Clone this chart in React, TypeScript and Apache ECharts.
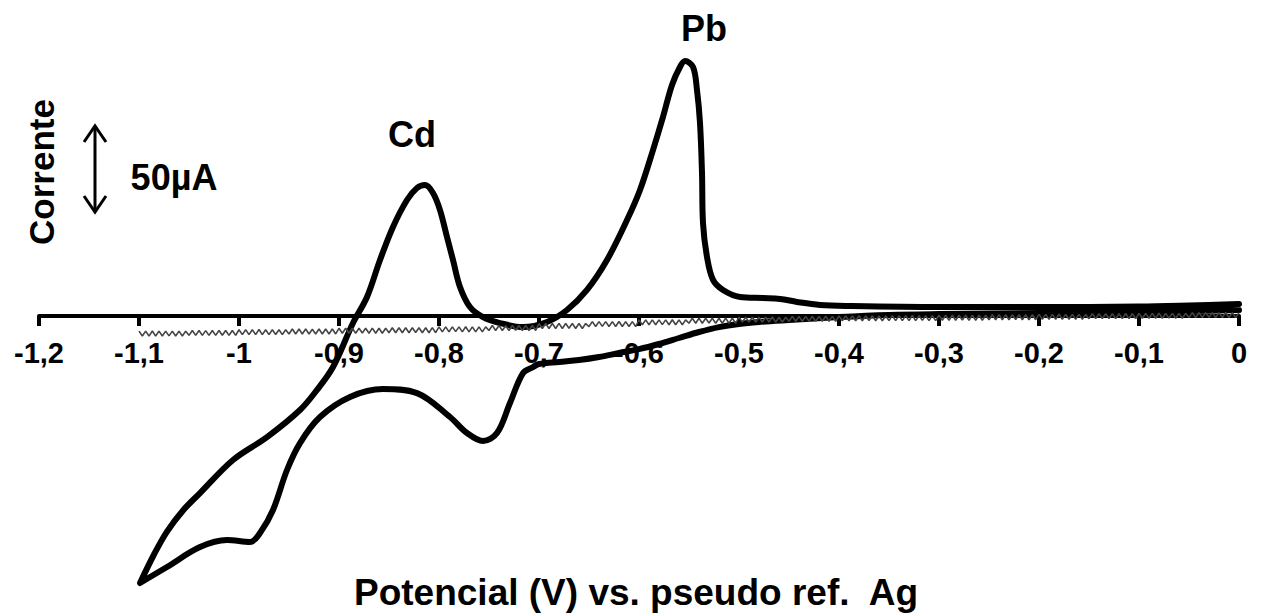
import React, { useEffect, useRef } from "react";
import * as echarts from "echarts";

// Potential axis (V) tick labels, written with a decimal comma
const TICK_LABELS = ["-1,2", "-1,1", "-1", "-0,9", "-0,8", "-0,7", "-0,6", "-0,5", "-0,4", "-0,3", "-0,2", "-0,1", "0"];

// Cyclic voltammogram, cathodic sweep 0 V -> -1.1 V, then anodic sweep back to 0 V
const CV_POTENTIAL = [
  0, -0.05, -0.1, -0.2, -0.3, -0.35, -0.4, -0.45, -0.48, -0.5,
  -0.52, -0.54, -0.56, -0.58, -0.6, -0.62, -0.64, -0.66, -0.68, -0.7,
  -0.706, -0.716, -0.729, -0.742, -0.756, -0.772, -0.789, -0.822, -0.856, -0.889,
  -0.919, -0.939, -0.952, -0.966, -0.979, -0.989, -1.012, -1.039, -1.072, -1.099,
  -1.085, -1.072, -1.056, -1.039, -1.006, -0.972, -0.939, -0.922, -0.906, -0.886, -0.872, -0.859,
  -0.846, -0.832, -0.822, -0.814, -0.806, -0.799, -0.792, -0.786, -0.779, -0.769,
  -0.756, -0.739, -0.716, -0.692, -0.672, -0.652, -0.632, -0.612, -0.599, -0.586,
  -0.576, -0.567, -0.559, -0.554, -0.546, -0.542, -0.539, -0.537, -0.536, -0.532,
  -0.526, -0.516, -0.499, -0.476, -0.459, -0.442, -0.419, -0.39, -0.3, -0.2,
  -0.1, -0.05, 0,
];
// Current in µA for each potential above
const CV_CURRENT = [
  3.4, 2.8, 2.3, 1.7, 1.1, 0.6, -0.6, -2.3, -3.4, -4.5,
  -6.3, -9.1, -12.5, -15.9, -18.8, -21.0, -23.3, -25.0, -26.1, -27.3,
  -29.0, -32.4, -49.4, -66.5, -71.0, -66.5, -57.4, -43.8, -41.5, -46.0,
  -57.4, -72.2, -87.5, -110.2, -123.3, -128.4, -127.3, -131.3, -142.6, -151.7,
  -135.5, -122.5, -110.5, -100.6, -81.8, -68.8, -53.4, -42.0, -29.0, -4.0, 10.8, 31.8,
  50.6, 65.9, 72.7, 74.4, 69.9, 60.2, 44.9, 31.8, 16.5, 5.1,
  -0.6, -4.0, -6.3, -3.4, 3.4, 14.8, 31.8, 54.5, 71.6, 94.3,
  113.1, 131.3, 141.5, 144.9, 141.5, 128.4, 109.7, 81.3, 52.8, 33.5,
  20.5, 14.8, 10.8, 10.2, 9.7, 8.0, 6.3, 5.7, 5.1, 5.1,
  5.4, 6.0, 6.8,
];

// Blank scan: sampled every 1/300 V from -1.1 V to 0 V, current in µA
const BLANK_START = -1.1;
const BLANK_STEP = 0.1 / 30;
const BLANK_CURRENT = [
  // -1.1 .. -1.0
  -8.6, -11.4, -8.6, -11.4, -8.5, -11.4, -8.6, -11.4, -8.6, -11.3, -8.6, -11.4, -8.6, -11.4, -8.6,
  -11.0, -8.2, -11.0, -8.2, -11.0, -8.3, -11.0, -8.2, -11.0, -8.2, -10.9, -8.2, -11.0, -8.2, -11.0,
  // -1.0 .. -0.9
  -7.8, -10.6, -7.8, -10.6, -7.8, -10.6, -7.7, -10.6, -7.8, -10.6, -7.8, -10.5, -7.8, -10.6, -7.8,
  -10.2, -7.4, -10.2, -7.4, -10.2, -7.4, -10.2, -7.5, -10.2, -7.4, -10.2, -7.4, -10.2, -7.4, -10.2,
  // -0.9 .. -0.8
  -7.0, -9.8, -7.0, -9.8, -7.0, -9.8, -7.0, -9.7, -7.0, -9.8, -6.9, -9.8, -7.0, -9.8, -7.0,
  -9.5, -6.7, -9.5, -6.7, -9.5, -6.7, -9.5, -6.7, -9.4, -6.7, -9.5, -6.7, -9.5, -6.6, -9.5,
  // -0.8 .. -0.7
  -6.2, -9.0, -6.2, -9.0, -6.2, -8.9, -6.2, -9.0, -6.1, -9.0, -6.2, -9.0, -6.2, -9.0, -6.2,
  -8.2, -5.4, -8.2, -5.4, -8.2, -5.5, -8.2, -5.4, -8.1, -5.4, -8.2, -5.4, -8.2, -5.4, -8.2,
  // -0.7 .. -0.6
  -4.3, -7.1, -4.3, -7.1, -4.3, -7.1, -4.2, -7.1, -4.3, -7.0, -4.3, -7.1, -4.3, -7.1, -4.3,
  -6.0, -3.2, -6.0, -3.2, -5.9, -3.2, -6.0, -3.2, -6.0, -3.1, -6.0, -3.2, -6.0, -3.2, -6.0,
  // -0.6 .. -0.5
  -2.2, -5.0, -2.2, -5.0, -2.2, -5.0, -2.2, -4.9, -2.2, -5.0, -2.1, -5.0, -2.2, -5.0, -2.2,
  -4.1, -1.3, -4.1, -1.3, -4.1, -1.3, -4.0, -1.3, -4.1, -1.3, -4.1, -1.2, -4.1, -1.3, -4.1,
  // -0.5 .. -0.4
  -0.7, -3.5, -0.7, -3.5, -0.7, -3.4, -0.7, -3.5, -0.7, -3.5, -0.6, -3.5, -0.7, -3.5, -0.7,
  -3.0, -0.2, -3.0, -0.2, -3.0, -0.2, -2.9, -0.2, -3.0, -0.2, -3.0, -0.1, -3.0, -0.2, -3.0,
  // -0.4 .. -0.3
  0.1, -2.7, 0.1, -2.7, 0.1, -2.7, 0.2, -2.7, 0.1, -2.6, 0.1, -2.7, 0.1, -2.7, 0.1,
  -2.6, 0.2, -2.6, 0.2, -2.6, 0.2, -2.6, 0.3, -2.6, 0.2, -2.5, 0.2, -2.6, 0.2, -2.6,
  // -0.3 .. -0.2
  0.4, -2.4, 0.4, -2.4, 0.4, -2.4, 0.4, -2.3, 0.4, -2.4, 0.5, -2.4, 0.4, -2.4, 0.4,
  -2.1, 0.7, -2.1, 0.7, -2.1, 0.7, -2.1, 0.7, -2.0, 0.7, -2.1, 0.7, -2.1, 0.8, -2.1,
  // -0.2 .. -0.1
  0.9, -1.9, 0.9, -1.9, 0.9, -1.9, 1.0, -1.9, 0.9, -1.8, 0.9, -1.9, 0.9, -1.9, 0.9,
  -1.5, 1.3, -1.5, 1.3, -1.5, 1.3, -1.4, 1.3, -1.5, 1.3, -1.5, 1.4, -1.5, 1.3, -1.5,
  // -0.1 .. 0
  1.5, -1.3, 1.5, -1.3, 1.5, -1.3, 1.6, -1.3, 1.5, -1.2, 1.5, -1.3, 1.5, -1.3, 1.5,
  -0.9, 1.9, -0.9, 1.9, -0.9, 1.9, -0.8, 1.9, -0.9, 1.9, -0.9, 2.0, -0.9, 1.9, -0.9,
  1.9,
];

const FONT = "'Liberation Sans', Arial, Helvetica, sans-serif";

export default function App() {
  const ref = useRef<HTMLDivElement>(null);

  useEffect(() => {
    if (!ref.current) return;
    const chart = echarts.init(ref.current, null, { renderer: "svg" });

    const cvData = CV_POTENTIAL.map((v, i) => [v, CV_CURRENT[i]]);
    const blankData = BLANK_CURRENT.map((c, i) => [BLANK_START + i * BLANK_STEP, c]);

    chart.setOption({
      animation: false,
      backgroundColor: "#ffffff",
      // the grid's lower edge is the zero-current line; negative currents are drawn below it
      grid: { left: 39, right: 23, top: 16.8, bottom: 300, containLabel: false, outerBoundsMode: "none" },
      xAxis: {
        type: "value",
        min: -1.2,
        max: 0,
        interval: 0.1,
        axisLine: { onZero: false, lineStyle: { color: "#000", width: 4 } },
        axisTick: { show: true, inside: false, length: 10, lineStyle: { color: "#000", width: 4 } },
        axisLabel: {
          formatter: (v: number) => TICK_LABELS[Math.round((v + 1.2) / 0.1)] ?? "",
          color: "#000",
          fontFamily: FONT,
          fontWeight: "bold",
          fontSize: 29,
          margin: 22,
          showMinLabel: true,
          showMaxLabel: true,
        },
        splitLine: { show: false },
      },
      yAxis: {
        type: "value",
        min: 0,
        max: 170,
        show: false,
        splitLine: { show: false },
      },
      series: [
        {
          name: "CV",
          type: "line",
          data: cvData,
          showSymbol: false,
          clip: false,
          smooth: 0.35,
          lineStyle: { color: "#000", width: 6, cap: "round", join: "round" },
          z: 2,
        },
        {
          name: "Branco",
          type: "line",
          data: blankData,
          showSymbol: false,
          clip: false,
          lineStyle: { color: "#444", width: 1.6 },
          z: 3,
        },
      ],
      graphic: [
        {
          type: "text",
          x: 412,
          y: 134,
          style: { text: "Cd", fill: "#000", font: `bold 36px ${FONT}`, textAlign: "center", textVerticalAlign: "middle" },
        },
        {
          type: "text",
          x: 704,
          y: 28,
          style: { text: "Pb", fill: "#000", font: `bold 36px ${FONT}`, textAlign: "center", textVerticalAlign: "middle" },
        },
        {
          type: "text",
          x: 174,
          y: 177,
          style: { text: "50µA", fill: "#000", font: `bold 36px ${FONT}`, textAlign: "center", textVerticalAlign: "middle" },
        },
        {
          type: "text",
          x: 41,
          y: 172,
          rotation: Math.PI / 2,
          style: { text: "Corrente", fill: "#000", font: `bold 35px ${FONT}`, textAlign: "center", textVerticalAlign: "middle" },
        },
        {
          type: "text",
          x: 636,
          y: 592,
          style: {
            text: "Potencial (V) vs. pseudo ref.  Ag",
            fill: "#000",
            font: `bold 37px ${FONT}`,
            textAlign: "center",
            textVerticalAlign: "middle",
          },
        },
        // scale bar: double-headed arrow for 50 µA
        {
          type: "line",
          shape: { x1: 95, y1: 126, x2: 95, y2: 212 },
          style: { stroke: "#000", lineWidth: 3 },
        },
        {
          type: "polyline",
          shape: { points: [[84, 142], [95, 126], [106, 142]] },
          style: { stroke: "#000", lineWidth: 3, fill: null },
        },
        {
          type: "polyline",
          shape: { points: [[84, 196], [95, 212], [106, 196]] },
          style: { stroke: "#000", lineWidth: 3, fill: null },
        },
      ],
    });

    return () => chart.dispose();
  }, []);

  return (
    <div
      ref={ref}
      style={{ position: "fixed", left: 0, top: 0, width: 1262, height: 616, background: "#fff" }}
    />
  );
}
